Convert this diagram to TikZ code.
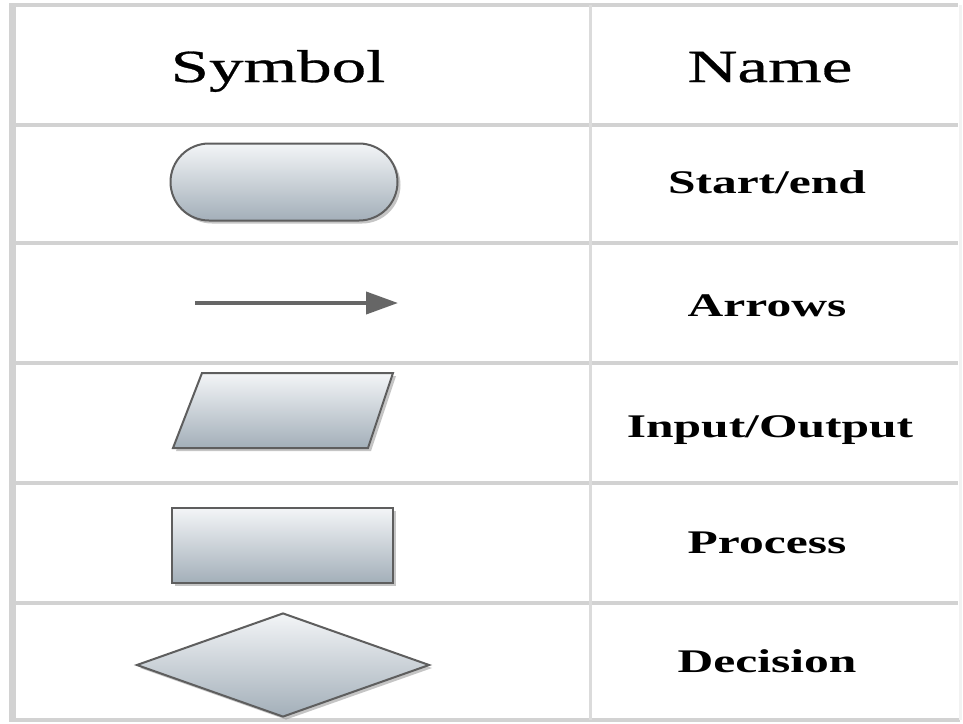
\documentclass[tikz,border=0pt]{standalone}
\usepackage{fontspec}
\usetikzlibrary{arrows.meta,shapes.misc,shapes.geometric,shadows}
\newfontfamily\headfont{Liberation Serif}[FakeStretch=1.5,FakeBold=0.6]
\newfontfamily\rowfont{Liberation Serif}[UprightFont=* Bold,FakeStretch=1.5]
\definecolor{rulegray}{HTML}{D2D2D2}
\definecolor{symtop}{HTML}{F3F5F7}
\definecolor{symbot}{HTML}{A3AFB9}
\definecolor{symedge}{HTML}{5E5E5E}
\definecolor{arrowgray}{HTML}{666666}
\begin{document}
\begin{tikzpicture}[x=1pt,y=-1pt,
  rule/.style={draw=rulegray, line width=4pt},
  sym/.style={draw=symedge, line width=2pt, top color=symtop, bottom color=symbot,
    drop shadow={opacity=0.45, shadow xshift=3pt, shadow yshift=-3pt}},
  headtext/.style={anchor=base, font=\headfont\fontsize{46}{50}\selectfont},
  rowtext/.style={anchor=base, font=\rowfont\fontsize{33}{38}\selectfont}]
\fill[white] (0,0) rectangle (963,723);
\useasboundingbox (0,0) rectangle (963,723);
\draw[rule] (12,5) -- (958,5);
\draw[rule] (12,720) -- (960,720);
\draw[rule, line width=7pt] (12,3) -- (12,722);
\draw[draw=gray!10, line width=3pt] (960,5) -- (960,720);
\foreach \y in {125,243,363,483,603}
  \draw[rule] (12,\y) -- (958,\y);
\draw[draw=rulegray!80, line width=3pt] (590,5) -- (590,720);
\node[headtext] (symhead) at (278,82) {Symbol};
\node[headtext] (namehead) at (770,82) {Name};
\node[sym, rounded rectangle, minimum width=227pt, minimum height=77pt, inner sep=0pt] (startend) at (284,182) {};
\coordinate (atail) at (195,303);
\coordinate (ahead) at (398,303);
\draw[draw=arrowgray, line width=4pt, -{Triangle[length=32pt,width=22pt]}] (atail) -- (ahead);
\draw[sym] (173,448) -- (202,373) -- (393,373) -- (368,448) -- cycle;
\node[sym, rectangle, minimum width=221pt, minimum height=75pt, inner sep=0pt] (process) at (282.5,545.5) {};
\node[sym, diamond, minimum width=293pt, minimum height=104pt, inner sep=0pt] (decision) at (283,665) {};
\node[rowtext] (tstart) at (767,193) {Start/end};
\node[rowtext] (tarrow) at (767,316) {Arrows};
\node[rowtext] (tio) at (770,437) {Input/Output};
\node[rowtext] (tproc) at (767,553) {Process};
\node[rowtext] (tdec) at (767,672) {Decision};
\end{tikzpicture}
\end{document}
